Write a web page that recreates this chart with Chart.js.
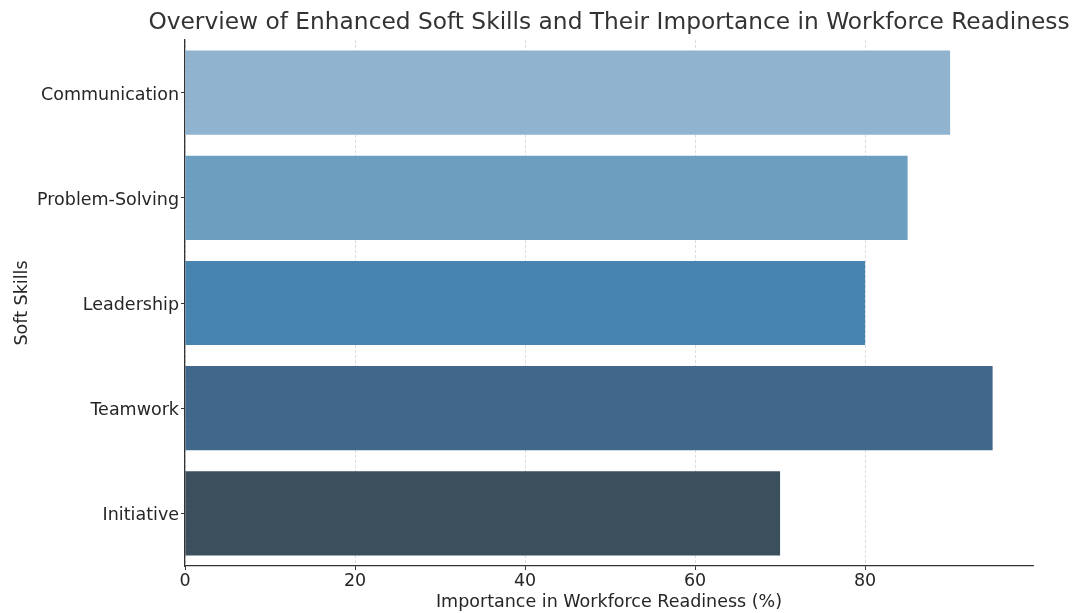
<!DOCTYPE html>
<html>
<head>
<meta charset="utf-8">
<script src="https://cdn.jsdelivr.net/npm/chart.js@4.4.1/dist/chart.umd.min.js"></script>
<style>
  body { margin: 0; background: #fff; }
  canvas { display: block; }
</style>
</head>
<body>
<canvas id="grafico" width="1075" height="613"></canvas>
<script>
// dados
const habilidades = ["Communication", "Problem-Solving", "Leadership", "Teamwork", "Initiative"];
const importancia = [90, 85, 80, 95, 70];
const coresBarras = ["#90b4d0", "#6b9ebf", "#4884b0", "#41688a", "#3b4f5d"];
const ticksX = [0, 20, 40, 60, 80];

const titulo = "Overview of Enhanced Soft Skills and Their Importance in Workforce Readiness";
const tituloX = "Importance in Workforce Readiness (%)";
const tituloY = "Soft Skills";

const fonte = "'DejaVu Sans', sans-serif";
const corTexto = "#262626";

// titulo centrado na area do grafico, sem ser espremido pelo maxWidth
const tituloPlugin = {
    id: 'tituloCentrado',
    afterDraw(chart) {
        const c = chart.ctx;
        const area = chart.chartArea;
        c.save();
        c.font = "23.3px " + fonte;
        c.fillStyle = "#333333";
        c.textAlign = "center";
        c.textBaseline = "middle";
        c.fillText(titulo, (area.left + area.right) / 2, 23);
        c.restore();
    }
};

const ctx = document.getElementById('grafico');

new Chart(ctx, {
    type: 'bar',
    data: {
        labels: habilidades,
        datasets: [{
            data: importancia,
            backgroundColor: coresBarras,
            borderWidth: 0,
            categoryPercentage: 0.8,
            barPercentage: 1.0
        }]
    },
    options: {
        indexAxis: 'y',
        responsive: false,
        animation: false,
        layout: { padding: { left: 0, right: 42, top: 40, bottom: 0 } },
        plugins: {
            legend: { display: false },
            tooltip: { enabled: false },
            title: { display: false }
        },
        scales: {
            x: {
                type: 'linear',
                min: 0,
                max: 99.75,
                afterBuildTicks: (scale) => {
                    scale.ticks = ticksX.map(v => ({ value: v }));
                },
                afterFit: (scale) => { scale.height = 47; },
                grid: {
                    color: "#d4d4d4",
                    lineWidth: 0.8,
                    drawTicks: true,
                    tickLength: 4,
                    tickColor: "#333333",
                    tickWidth: 1
                },
                border: { display: true, color: "#333333", width: 1.3, dash: [3, 2] },
                ticks: {
                    color: corTexto,
                    padding: 1,
                    font: { family: fonte, size: 17.5 }
                },
                title: {
                    display: true,
                    text: tituloX,
                    color: corTexto,
                    padding: { top: 0, bottom: 0 },
                    font: { family: fonte, size: 17.5 }
                }
            },
            y: {
                type: 'category',
                offset: true,
                afterFit: (scale) => { scale.width = 185; },
                grid: {
                    display: true,
                    offset: false,
                    drawOnChartArea: false,
                    drawTicks: true,
                    tickLength: 4,
                    tickColor: "#333333",
                    tickWidth: 1
                },
                border: { display: true, color: "#333333", width: 1.3 },
                ticks: {
                    color: corTexto,
                    padding: 2,
                    labelOffset: 2.5,
                    font: { family: fonte, size: 17.5 }
                },
                title: {
                    display: true,
                    text: tituloY,
                    color: corTexto,
                    padding: { top: 12, bottom: 0 },
                    font: { family: fonte, size: 17.5 }
                }
            }
        }
    },
    plugins: [tituloPlugin]
});
</script>
</body>
</html>
